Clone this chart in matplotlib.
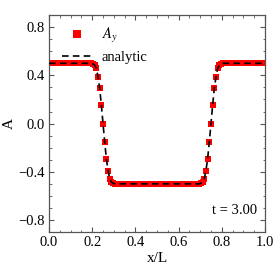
import matplotlib
matplotlib.use("Agg")
import matplotlib.pyplot as plt
from matplotlib.ticker import MultipleLocator

plt.rcParams['font.family'] = ['Liberation Serif', 'DejaVu Serif']
plt.rcParams['mathtext.fontset'] = 'stix'

# grid points x/L (129 nodes, dx = 1/128)
x = [k / 128 for k in range(129)]

# profile: +0.5 outside, -0.5 between the two fronts
left_front = [0.495, 0.485, 0.46, 0.39, 0.295, 0.155, 0.0,
              -0.155, -0.295, -0.39, -0.46, -0.485, -0.495]
right_front = [-0.495, -0.485, -0.46, -0.39, -0.295, -0.155, 0.0,
               0.155, 0.295, 0.39, 0.46, 0.485, 0.495]
ay = [0.5] * 26 + left_front + [-0.5] * 51 + right_front + [0.5] * 26
analytic = list(ay)  # analytic curve runs through the markers

XLIM = (0.0, 1.0)
YLIM = (-0.9, 0.9)
SPINE = '#555555'

fig = plt.figure(figsize=(2.74, 2.74), dpi=100)
ax = fig.add_axes([0.179, 0.153, 0.788, 0.792])

ax.plot(x, ay, 's', color='red', markersize=4.3, markeredgewidth=0,
        label=r'$A_y$', zorder=2)
ax.plot(x, analytic, '--', color='black', linewidth=1.2, dashes=(4, 2.5),
        label='analytic', zorder=3)

ax.set_xlim(*XLIM)
ax.set_ylim(*YLIM)
ax.xaxis.set_major_locator(MultipleLocator(0.2))
ax.xaxis.set_minor_locator(MultipleLocator(0.05))
ax.yaxis.set_major_locator(MultipleLocator(0.4))
ax.yaxis.set_minor_locator(MultipleLocator(0.1))
ax.xaxis.set_major_formatter(lambda v, p: f"{v:.1f}".replace('-', '\u2212'))
ax.yaxis.set_major_formatter(lambda v, p: f"{v:.1f}".replace('-', '\u2212'))

ax.tick_params(which='both', direction='in', top=True, right=True,
               color=SPINE, labelsize=10.5, pad=3)
ax.tick_params(which='major', length=3.5, width=0.8)
ax.tick_params(which='minor', length=1.8, width=0.6)
for s in ax.spines.values():
    s.set_color(SPINE)
    s.set_linewidth(0.9)

ax.set_xlabel('x/L', fontsize=11, labelpad=2)
ax.set_ylabel('A', fontsize=11, labelpad=2)

ax.text(0.963, -0.717, 't = 3.00', fontsize=10.5, ha='right', va='center')

leg = ax.legend(loc='upper left', frameon=False, fontsize=10.5,
                bbox_to_anchor=(0.0, 1.01), handlelength=2.0,
                handletextpad=0.7, labelspacing=0.4, numpoints=1,
                markerscale=1.4)

fig.savefig('out.png', dpi=100)
